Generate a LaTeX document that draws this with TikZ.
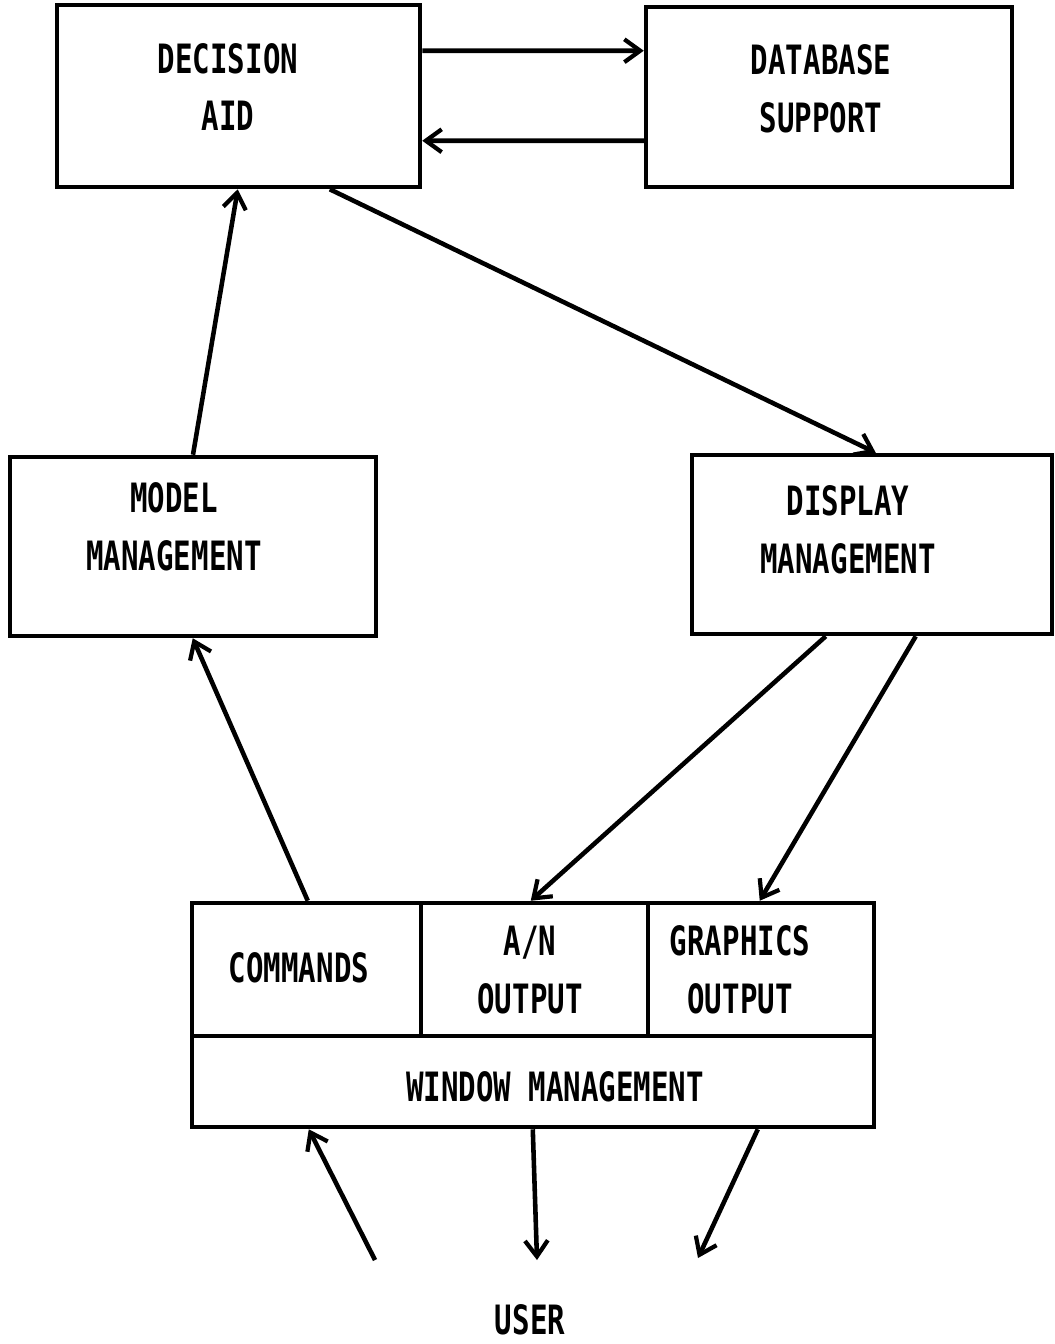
\documentclass[tikz,border=0pt]{standalone}
\usepackage{fontspec}
\newfontfamily\plotfont[FakeStretch=0.72]{DejaVu Sans Mono Bold}
\usetikzlibrary{arrows.meta,calc}
\tikzset{
  box/.style={draw,line width=2.6pt,inner sep=0pt,rectangle},
  lbl/.style={font=\plotfont\fontsize{23}{33}\selectfont,align=center,inner sep=0pt},
  conn/.style={line width=2.6pt,-{Straight Barb[length=9pt,width=13pt,line width=2.4pt]}}
}
\begin{document}
\begin{tikzpicture}[x=0.02cm,y=-0.02cm]
\useasboundingbox (0,0) rectangle (1054,1344);
% boxes
\node[box,minimum width=7.26cm,minimum height=3.64cm] (da) at (238.5,96) {};
\node[box,minimum width=7.32cm,minimum height=3.6cm] (db) at (829,97) {};
\node[box,minimum width=7.32cm,minimum height=3.58cm] (mm) at (193,546.5) {};
\node[box,minimum width=7.2cm,minimum height=3.58cm] (dm) at (872,544.5) {};
\node[box,minimum width=4.58cm,minimum height=2.66cm] (cmd) at (306.5,969.5) {};
\node[box,minimum width=4.54cm,minimum height=2.66cm] (an) at (534.5,969.5) {};
\node[box,minimum width=4.52cm,minimum height=2.66cm] (gr) at (761,969.5) {};
\node[box,minimum width=13.64cm,minimum height=1.82cm] (win) at (533,1081.5) {};
% texts
\node[lbl] (daT) at (228,87) {DECISION\\AID};
\node[lbl] (dbT) at (821,89) {DATABASE\\SUPPORT};
\node[lbl] (mmT) at (174,527) {MODEL\\MANAGEMENT};
\node[lbl] (dmT) at (848,530) {DISPLAY\\MANAGEMENT};
\node[lbl] (cmdT) at (299,968) {COMMANDS};
\node[lbl] (anT) at (530,970) {A/N\\OUTPUT};
\node[lbl] (grT) at (740,970) {GRAPHICS\\OUTPUT};
\node[lbl] (winT) at (555,1087) {WINDOW MANAGEMENT};
\node[lbl] (user) at (530,1320) {USER};
% user end points
\coordinate (u1) at (375,1260);
\coordinate (u2) at (537,1260);
\coordinate (u3) at (698,1258);
% connectors
\draw[conn] ($(da.north east)+(0,48)$) -- ($(db.north west)+(0,46)$);
\draw[conn] ($(db.north west)+(0,136)$) -- ($(da.north east)+(0,138)$);
\draw[conn] (mm.north) -- ($(da.south west)+(183,0)$);
\draw[conn] ($(da.south west)+(275,0)$) -- ($(dm.north west)+(186,0)$);
\draw[conn] ($(cmd.north west)+(118,0)$) -- ($(mm.south west)+(185,0)$);
\draw[conn] ($(dm.south west)+(136,0)$) -- ($(an.north west)+(112,0)$);
\draw[conn] ($(dm.south west)+(226,0)$) -- ($(gr.north west)+(114,0)$);
\draw[conn] (u1) -- ($(win.south west)+(119,0)$);
\draw[conn] ($(win.south west)+(343,0)$) -- (u2);
\draw[conn] ($(win.south west)+(568,0)$) -- (u3);
\end{tikzpicture}
\end{document}
